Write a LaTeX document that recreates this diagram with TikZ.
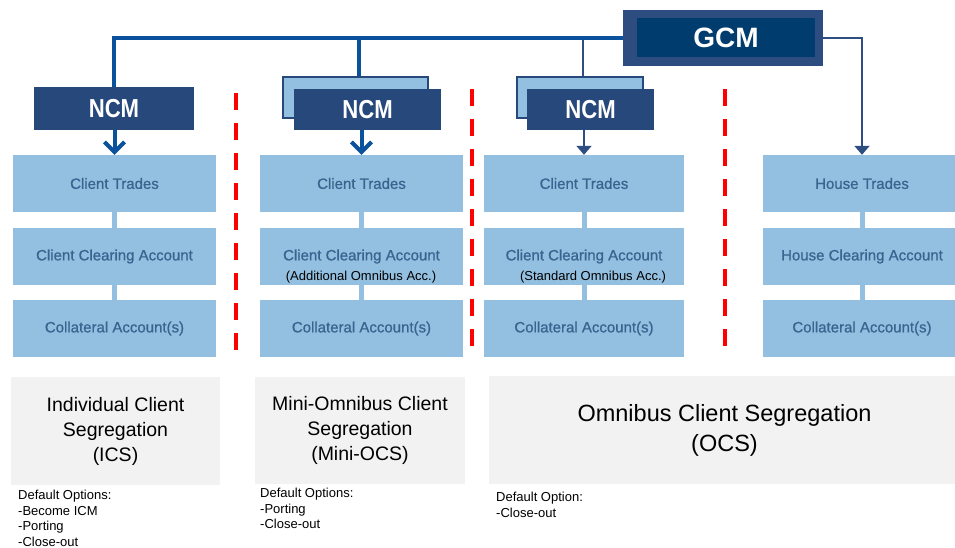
\documentclass[tikz,border=0pt]{standalone}
\usepackage{fontspec}
\setmainfont{Liberation Sans}
\newfontfamily\narrowfont[FakeStretch=0.85]{Liberation Sans}
\newfontfamily\accfont[FakeBold=0.8]{Liberation Sans}
\usepackage{tikz}
\usetikzlibrary{arrows.meta}
\definecolor{accblue}{HTML}{93BFE0}
\definecolor{acctext}{HTML}{3A6390}
\definecolor{ncmblue}{HTML}{26487A}
\definecolor{gcmouter}{HTML}{2D4C80}
\definecolor{gcminner}{HTML}{003C6E}
\definecolor{linethick}{HTML}{0A529C}
\definecolor{linethin}{HTML}{2E4D80}
\definecolor{seggray}{HTML}{F2F2F2}

\begin{document}
\begin{tikzpicture}[x=1pt,y=-1pt]
	\useasboundingbox (0,0) rectangle (955,547);
	\tikzstyle{acc}=[fill=accblue, text=acctext, minimum height=57, inner sep=0, font=\accfont\fontsize{15}{18}\selectfont]
	\tikzstyle{ncm}=[fill=ncmblue, text=white, minimum height=41, inner sep=0, font=\narrowfont\bfseries\fontsize{26}{28}\selectfont]
	\tikzstyle{ncmback}=[fill=accblue, draw=ncmblue, line width=1.2, minimum height=41, inner sep=0]
	\tikzstyle{seg}=[fill=seggray, align=center, inner sep=0]
	\tikzstyle{opts}=[anchor=north west, align=left, inner sep=0, font=\fontsize{13}{15.5}\selectfont]
	\tikzstyle{sepline}=[red, line width=4, dash pattern=on 17pt off 13pt]
	\tikzstyle{thickline}=[linethick, line width=4]
	\tikzstyle{thinline}=[linethin, line width=2]
	% dashed separators
	\foreach \x/\ya/\yb in {236/93/357,472/89/354,725/89/352}
	    \draw[sepline] (\x,\ya) -- (\x,\yb);
	% account columns
	\foreach \i/\x/\w/\who in {1/114.5/203/Client,2/361.5/203/Client,3/584/200/Client,4/862/198/House} {
	    \node[acc, minimum width=\w] (t\i) at (\x,183.5) {\who\ Trades};
	    \node[acc, minimum width=\w] (c\i) at (\x,256.5) {\who\ Clearing Account};
	    \node[acc, minimum width=\w] (k\i) at (\x,328.5) {Collateral Account(s)};
	    \path[accblue, line width=5] (t\i) edge (c\i) (c\i) edge (k\i);
	}
	\node[font=\fontsize{13}{15}\selectfont, inner sep=0] (s2) at (361,277) {(Additional Omnibus Acc.)};
	\node[font=\fontsize{13}{15}\selectfont, inner sep=0] (s3) at (593,277) {(Standard Omnibus Acc.)};
	% members
	\node[ncmback, minimum width=145] (n2b) at (355.5,97.5) {};
	\node[ncmback, minimum width=126] (n3b) at (580,97.5) {};
	\node[ncm, minimum width=160, minimum height=43] (n1) at (114,108.5) {NCM};
	\node[ncm, minimum width=147] (n2) at (367.5,109.5) {NCM};
	\node[ncm, minimum width=127] (n3) at (590.5,109.5) {NCM};
	\node[fill=gcmouter, minimum width=200, minimum height=56] (gcm) at (723,38) {};
	\node[fill=gcminner, text=white, minimum width=178, minimum height=39, inner sep=0, font=\bfseries\fontsize{28}{30}\selectfont] (gcmin) at (726,37.5) {GCM};
	% connectors
	\coordinate (j2) at ([xshift=3.5]n2b.north);
	\coordinate (j3) at ([xshift=3]n3b.north);
	\draw[thinline] (j3) -- (j3 |- gcm.west);
	\draw[thickline] (gcm.west) -| (n1.north);
	\draw[thickline] (j2) -- (j2 |- gcm.west);
	\draw[thinline, -{Triangle[length=9pt,width=15pt]}] (gcm.east) -| (t4.north);
	\draw[thinline, -{Triangle[length=9pt,width=15pt]}] (t3.north |- n3.south) -- (t3.north);
	\draw[thickline, -{Straight Barb[length=10pt,width=20pt]}] (t1.north |- n1.south) -- (t1.north);
	\draw[thickline, -{Straight Barb[length=10pt,width=20pt]}] (t2.north |- n2.south) -- (t2.north);
	% segregation models
	\node[seg, minimum width=209, minimum height=108, font=\fontsize{19.5}{25}\selectfont] (g1) at (115.5,431) {Individual Client\\Segregation\\(ICS)};
	\node[seg, minimum width=210, minimum height=107, font=\fontsize{19.5}{25}\selectfont] (g2) at (360,430) {Mini-Omnibus Client\\Segregation\\(Mini-OCS)};
	\node[seg, minimum width=471, minimum height=108, font=\fontsize{23.5}{30}\selectfont] (g3) at (724.5,430) {Omnibus Client Segregation\\(OCS)};
	\node[opts] (o1) at (18,490) {Default Options:\\-Become ICM\\-Porting\\-Close-out};
	\node[opts] (o2) at (260,488) {Default Options:\\-Porting\\-Close-out};
	\node[opts] (o3) at (496,492) {Default Option:\\-Close-out};
\end{tikzpicture}
\end{document}
